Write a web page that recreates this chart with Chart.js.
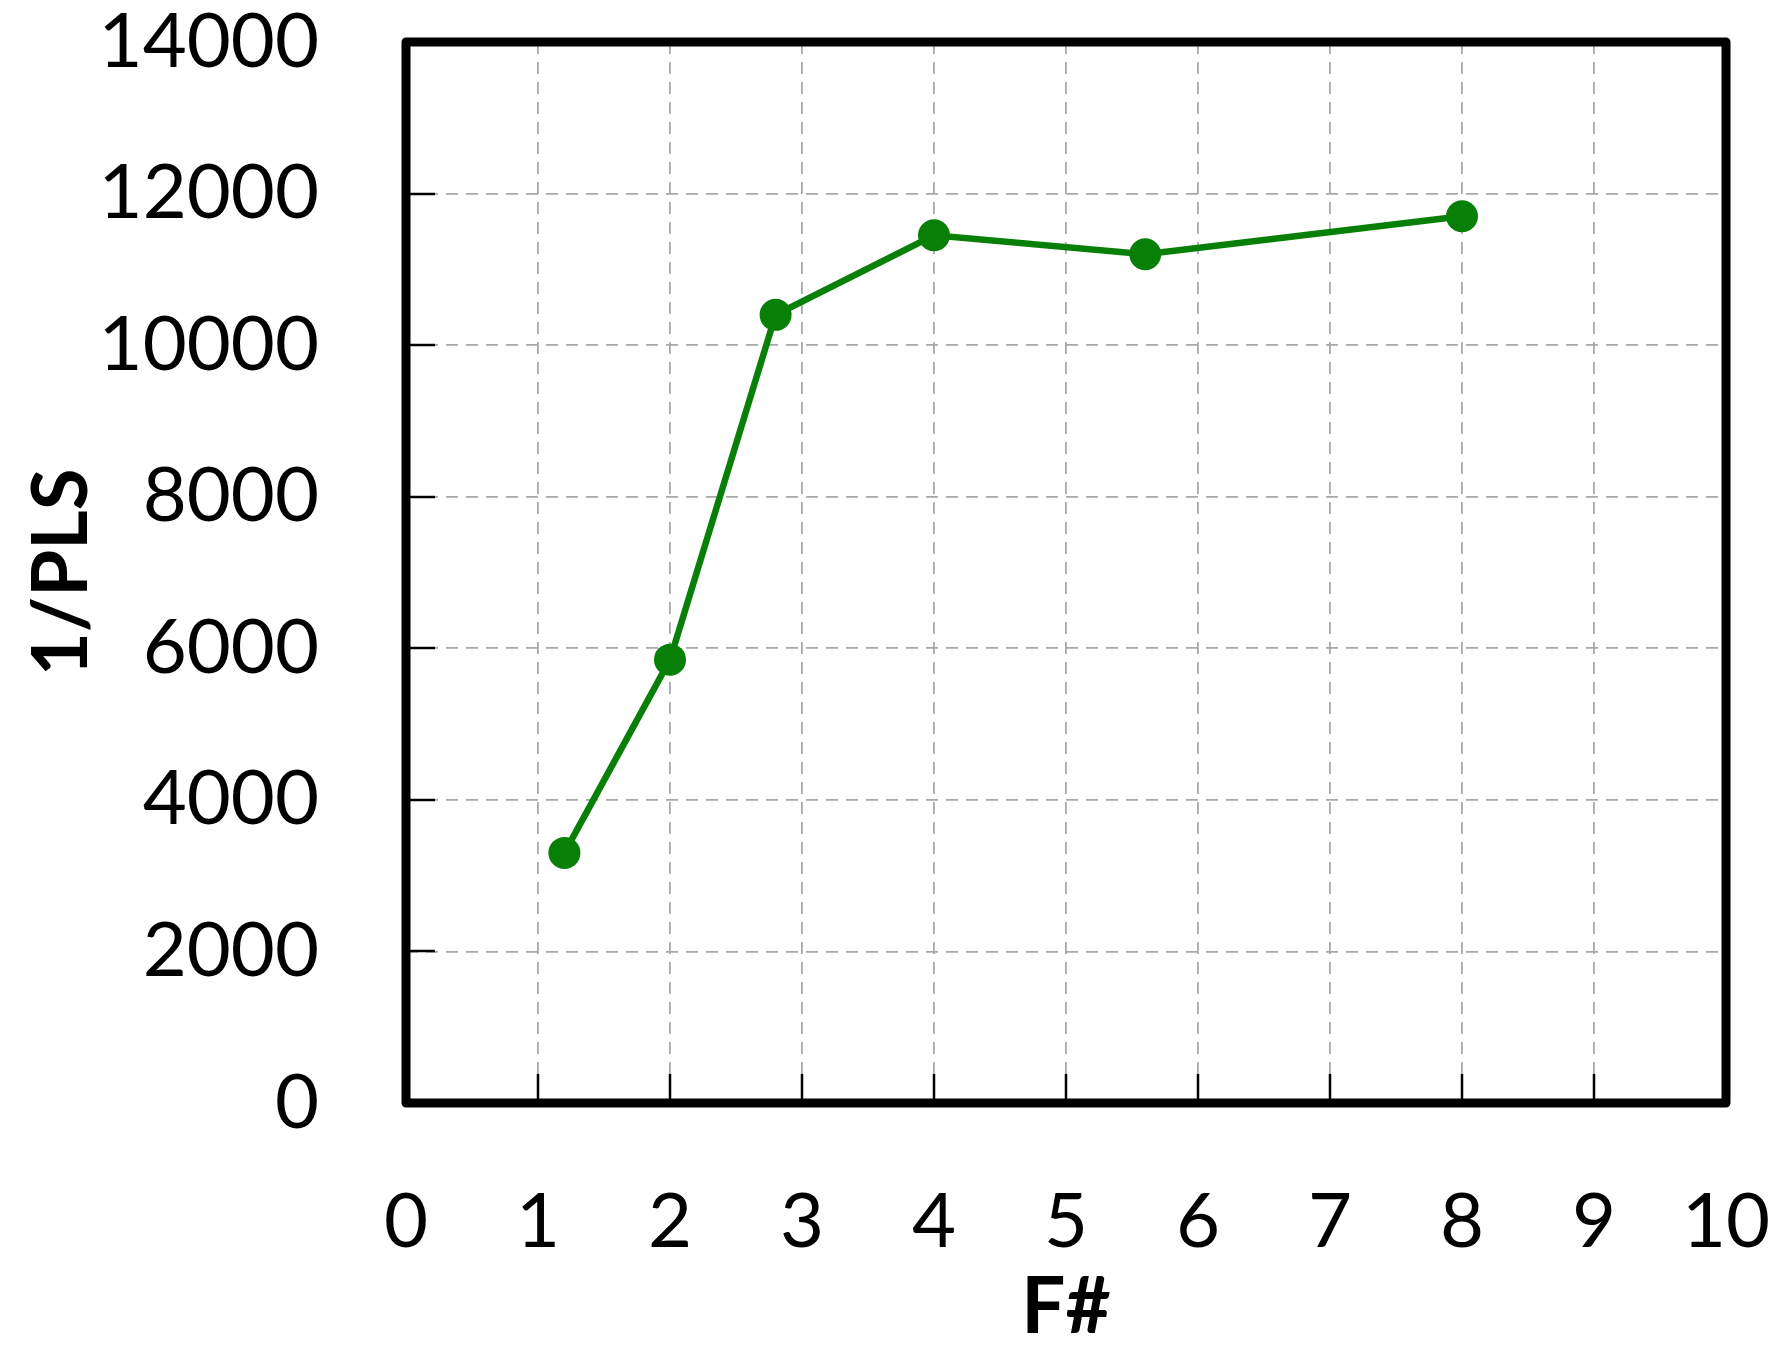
<!DOCTYPE html>
<html>
<head>
<meta charset="utf-8">
<script src="https://cdn.jsdelivr.net/npm/chart.js@4/dist/chart.umd.min.js"></script>
<style>
  html, body { margin: 0; padding: 0; background: #ffffff; }
  #wrap { width: 1784px; height: 1356px; }
</style>
</head>
<body>
<div id="wrap"><canvas id="c" width="1784" height="1356"></canvas></div>
<script>
// ---- data ----
const fNumbers = [1.2, 2, 2.8, 4, 5.6, 8];
const invPLS = [3300, 5850, 10400, 11450, 11200, 11700];
const xTicks = [0, 1, 2, 3, 4, 5, 6, 7, 8, 9, 10];
const yTicks = [0, 2000, 4000, 6000, 8000, 10000, 12000, 14000];
const xTitle = 'F#';
const yTitle = '1/PLS';

const points = fNumbers.map((x, i) => ({ x: x, y: invPLS[i] }));
const FONT = 'Lato, "Open Sans", "Noto Sans", sans-serif';

const framePlugin = {
  id: 'frame',
  afterDatasetsDraw(chart) {
    const ctx = chart.ctx;
    const a = chart.chartArea;
    const xs = chart.scales.x, ys = chart.scales.y;
    ctx.save();
    ctx.setLineDash([]);
    ctx.strokeStyle = '#000000';
    ctx.lineWidth = 2.5;
    // inner tick marks on bottom axis
    xTicks.forEach(v => {
      if (v === xTicks[0] || v === xTicks[xTicks.length - 1]) return;
      const px = Math.round(xs.getPixelForValue(v));
      ctx.beginPath();
      ctx.moveTo(px, a.bottom);
      ctx.lineTo(px, a.bottom - 29);
      ctx.stroke();
    });
    // inner tick marks on left axis
    yTicks.forEach(v => {
      if (v === yTicks[0] || v === yTicks[yTicks.length - 1]) return;
      const py = Math.round(ys.getPixelForValue(v));
      ctx.beginPath();
      ctx.moveTo(a.left, py);
      ctx.lineTo(a.left + 29, py);
      ctx.stroke();
    });
    // thick frame
    ctx.lineWidth = 9;
    ctx.lineJoin = 'round';
    ctx.strokeRect(a.left, a.top, a.right - a.left, a.bottom - a.top);
    ctx.restore();
  }
};

new Chart(document.getElementById('c'), {
  type: 'scatter',
  data: {
    datasets: [{
      data: points,
      showLine: true,
      borderColor: '#088008',
      backgroundColor: '#088008',
      borderWidth: 6.5,
      pointRadius: 16,
      pointHoverRadius: 16,
      pointBorderWidth: 0,
      tension: 0
    }]
  },
  options: {
    responsive: false,
    maintainAspectRatio: false,
    devicePixelRatio: 1,
    animation: false,
    events: [],
    layout: { padding: { top: 42, right: 58, left: 0, bottom: 0 } },
    plugins: {
      legend: { display: false },
      tooltip: { enabled: false }
    },
    scales: {
      x: {
        type: 'linear',
        position: 'bottom',
        min: 0,
        max: 10,
        afterFit(scale) {
          scale.height = 253;
          scale.paddingLeft = 0; scale.paddingRight = 0;
          scale.paddingTop = 0; scale.paddingBottom = 0;
        },
        afterBuildTicks(scale) { scale.ticks = xTicks.map(v => ({ value: v })); },
        ticks: {
          color: '#000000',
          font: { family: FONT, size: 76 },
          padding: 74,
          maxRotation: 0,
          autoSkip: false
        },
        grid: {
          color: (ctx) => (ctx.tick && (ctx.tick.value === 0 || ctx.tick.value === 10)) ? 'rgba(0,0,0,0)' : '#a8a8a8',
          lineWidth: 1.8,
          drawTicks: false
        },
        border: { display: false, dash: [12, 8] },
        title: {
          display: true,
          text: xTitle,
          color: '#000000',
          font: { family: FONT, size: 78, weight: 'bold' },
          padding: { top: 0, bottom: 1 }
        }
      },
      y: {
        type: 'linear',
        position: 'left',
        min: 0,
        max: 14000,
        afterFit(scale) {
          scale.width = 406;
          scale.paddingLeft = 0; scale.paddingRight = 0;
          scale.paddingTop = 0; scale.paddingBottom = 0;
        },
        afterBuildTicks(scale) { scale.ticks = yTicks.map(v => ({ value: v })); },
        ticks: {
          color: '#000000',
          font: { family: FONT, size: 76 },
          padding: 87,
          autoSkip: false,
          callback: (v) => String(v)
        },
        grid: {
          color: (ctx) => (ctx.tick && (ctx.tick.value === 0 || ctx.tick.value === 14000)) ? 'rgba(0,0,0,0)' : '#a8a8a8',
          lineWidth: 1.8,
          drawTicks: false
        },
        border: { display: false, dash: [12, 8] },
        title: {
          display: true,
          text: yTitle,
          color: '#000000',
          font: { family: FONT, size: 76, weight: 'bold' },
          padding: { top: 17, bottom: 0 }
        }
      }
    }
  },
  plugins: [framePlugin]
});
</script>
</body>
</html>
